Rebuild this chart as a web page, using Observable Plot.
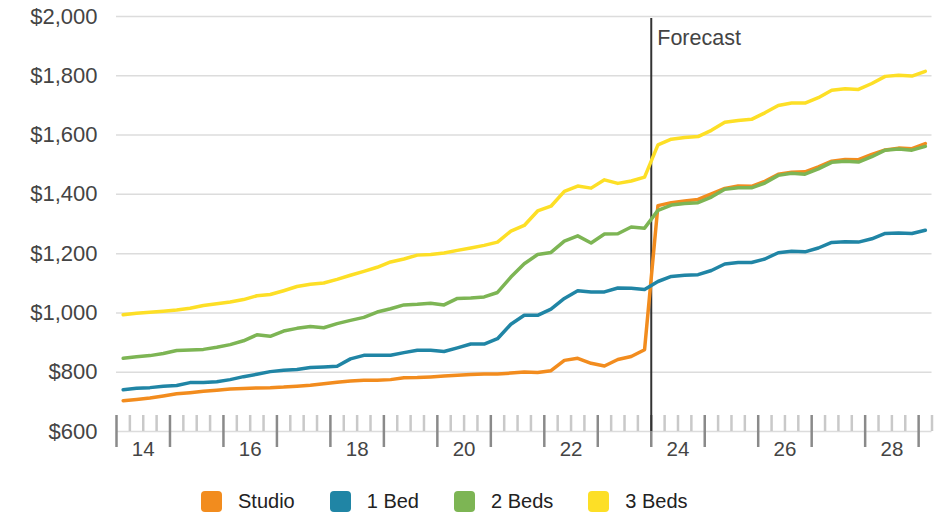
<!DOCTYPE html>
<html><head><meta charset="utf-8">
<script src="https://cdn.jsdelivr.net/npm/d3@7"></script>
<script src="https://cdn.jsdelivr.net/npm/@observablehq/plot@0.6"></script>
<style>
body{margin:0;background:#fff;font-family:"Liberation Sans",Arial,Helvetica,sans-serif;}
#wrap{position:relative;width:943px;height:516px;overflow:hidden;}
#legend{position:absolute;left:201px;top:491px;display:flex;align-items:center;font-size:20px;color:#222;line-height:21px;}
.item{display:flex;align-items:center;margin-right:35px;}
.sw{width:21px;height:21px;border-radius:4px;margin-right:16px;}
</style></head><body><div id="wrap"><div id="chart"></div><div id="legend"></div></div>
<script>
const seriesNames = ["Studio", "1 Bed", "2 Beds", "3 Beds"];
const seriesColors = ["#F28C1E", "#2085A5", "#7DB554", "#FDDF26"];
const firstYear = 2014;
const lastYear = 2029;
const forecastStart = 2024;
const forecastLabel = "Forecast";
const yTicks = [600, 800, 1000, 1200, 1400, 1600, 1800, 2000];
const yearLabels = [14, 16, 18, 20, 22, 24, 26, 28];

// quarterly values, 2014 Q1 .. 2029 Q1
const studio = [704,708,713,720,727,731,736,739,743,745,747,748,750,753,756,761,766,770,773,773,775,781,782,784,787,790,792,794,794,797,801,799,805,840,847,830,821,843,853,876,1362,1372,1378,1383,1402,1420,1428,1427,1444,1468,1475,1476,1493,1512,1518,1517,1535,1550,1556,1554,1571];
const oneBed = [741,746,748,753,755,765,765,768,775,785,793,802,807,809,816,818,820,845,857,857,857,866,874,874,870,882,895,895,913,962,992,992,1013,1049,1075,1071,1071,1084,1083,1079,1106,1123,1127,1129,1143,1165,1170,1170,1182,1203,1208,1206,1219,1238,1240,1239,1250,1268,1270,1268,1279];
const twoBeds = [847,852,856,863,873,875,877,884,893,906,926,921,939,948,954,950,964,975,985,1003,1014,1027,1029,1033,1027,1049,1050,1054,1069,1121,1166,1197,1204,1242,1260,1236,1266,1267,1290,1286,1346,1364,1369,1372,1391,1417,1422,1422,1438,1464,1471,1468,1486,1508,1512,1509,1527,1549,1553,1549,1562];
const threeBeds = [994,999,1002,1006,1010,1016,1025,1031,1037,1045,1058,1062,1075,1089,1097,1101,1113,1127,1140,1154,1172,1182,1195,1197,1202,1211,1219,1228,1239,1276,1295,1344,1360,1410,1428,1421,1449,1437,1445,1458,1567,1586,1592,1595,1616,1643,1649,1653,1675,1700,1708,1708,1726,1751,1756,1754,1774,1798,1802,1799,1815];
const allSeries = [studio, oneBed, twoBeds, threeBeds];

// quarter midpoints as decimal years
const quarterX = studio.map((_, i) => firstYear + (i + 0.5) / 4);
const yearTicks = d3.range(firstYear, lastYear + 1);
const quarterTicks = [];
for (let y = firstYear; y <= lastYear; y++) for (const q of [0.25, 0.5, 0.75]) if (y + q <= lastYear + 0.25) quarterTicks.push(y + q);

const lineMarks = allSeries.map((vals, k) =>
  Plot.lineY(vals, {x: (d, i) => quarterX[i], y: d => d, stroke: seriesColors[k], strokeWidth: 3.5})
);

const chart = Plot.plot({
  width: 943,
  height: 480,
  marginLeft: 116,
  marginRight: 11.5,
  marginTop: 16,
  marginBottom: 49,
  style: {fontFamily: '"Liberation Sans", Arial, Helvetica, sans-serif', color: "#444", background: "#fff"},
  x: {domain: [firstYear, lastYear + 0.25], axis: null},
  y: {domain: [600, 2000], axis: null},
  marks: [
    Plot.gridY(yTicks, {stroke: "#dcdcdc", strokeOpacity: 1, strokeWidth: 1.5}),
    Plot.tickX(quarterTicks, {x: d => d, stroke: "#c9c9c9", strokeWidth: 2.5, insetTop: 399}),
    Plot.tickX(yearTicks, {x: d => d, stroke: "#8a8a8a", strokeWidth: 2.5, insetTop: 399, insetBottom: -16}),
    Plot.ruleX([forecastStart], {stroke: "#333", strokeWidth: 2, insetTop: 2}),
    ...lineMarks,
    Plot.text(yearLabels, {x: d => 2000 + d + 0.5, text: d => String(d), frameAnchor: "bottom", dy: 24, fontSize: 20.5, fill: "#444"}),
    Plot.text([forecastLabel], {x: () => forecastStart, text: d => d, frameAnchor: "top", dx: 6, dy: 28, textAnchor: "start", lineAnchor: "bottom", fontSize: 21.5, fill: "#444"}),
    Plot.axisY(yTicks, {tickFormat: d3.format("$,"), tickSize: 0, tickPadding: 19, fontSize: 22})
  ]
});
document.getElementById("chart").appendChild(chart);

const legend = document.getElementById("legend");
seriesNames.forEach((name, k) => {
  const item = document.createElement("div");
  item.className = "item";
  const sw = document.createElement("div");
  sw.className = "sw";
  sw.style.background = seriesColors[k];
  const label = document.createElement("span");
  label.textContent = name;
  item.appendChild(sw);
  item.appendChild(label);
  legend.appendChild(item);
});
</script>
</body></html>
